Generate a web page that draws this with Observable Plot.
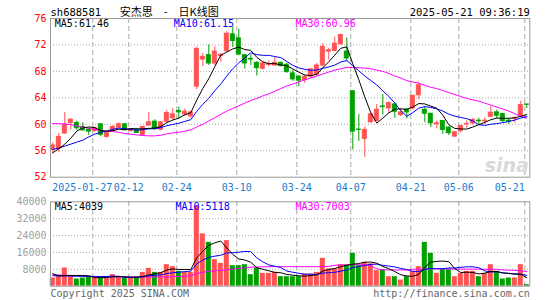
<!DOCTYPE html>
<html><head><meta charset="utf-8">
<script src="https://cdn.jsdelivr.net/npm/d3@7"></script>
<script src="https://cdn.jsdelivr.net/npm/@observablehq/plot@0.6"></script>
<style>
body{margin:0;background:#fff;}
#chart{width:545px;height:300px;overflow:hidden;background:#fff;}
#chart svg{display:block;}
</style></head><body><div id="chart"></div>
<script>
const dates = ["2025-01-16","2025-01-17","2025-01-20","2025-01-21","2025-01-22","2025-01-23","2025-01-24","2025-01-27","2025-02-05","2025-02-06",
"2025-02-07","2025-02-10","2025-02-11","2025-02-12","2025-02-13","2025-02-14","2025-02-17","2025-02-18","2025-02-19","2025-02-20",
"2025-02-21","2025-02-24","2025-02-25","2025-02-26","2025-02-27","2025-02-28","2025-03-03","2025-03-04","2025-03-05","2025-03-06",
"2025-03-07","2025-03-10","2025-03-11","2025-03-12","2025-03-13","2025-03-14","2025-03-17","2025-03-18","2025-03-19","2025-03-20",
"2025-03-21","2025-03-24","2025-03-25","2025-03-26","2025-03-27","2025-03-28","2025-03-31","2025-04-01","2025-04-02","2025-04-03",
"2025-04-07","2025-04-08","2025-04-09","2025-04-10","2025-04-11","2025-04-14","2025-04-15","2025-04-16","2025-04-17","2025-04-18",
"2025-04-21","2025-04-22","2025-04-23","2025-04-24","2025-04-25","2025-04-28","2025-04-29","2025-04-30","2025-05-06","2025-05-07",
"2025-05-08","2025-05-09","2025-05-12","2025-05-13","2025-05-14","2025-05-15","2025-05-16","2025-05-19","2025-05-20","2025-05-21"];

const open = [56.1,56.3,58.6,60.2,60.2,59.6,59.2,59.0,60.0,58.1, 59.0,59.5,60.0,59.0,59.1,58.4,59.8,60.4,59.2,60.4,
60.9,62.0,61.5,61.2,65.7,69.8,70.45,69.2,70.3,71.05, 73.6,73.0,70.45,69.9,69.3,68.4,69.0,68.9,69.3,69.0,
67.7,67.2,66.7,67.2,67.5,68.9,71.0,71.1,72.1,71.0, 65.0,59.2,57.8,60.3,60.5,62.7,62.4,63.0,61.4,62.2,
62.4,64.4,62.2,61.6,60.0,60.5,59.5,58.15,59.0,60.0, 60.15,60.55,60.45,61.15,61.8,61.55,60.55,60.85,61.3,63.0];
const high = [57.2,58.6,61.8,60.8,60.5,60.2,59.4,59.6,60.1,59.0, 59.8,60.2,60.1,59.3,59.3,59.7,61.8,60.7,60.4,62.1,
62.4,62.6,62.3,62.0,71.7,70.7,72.0,71.7,70.7,74.0, 74.7,74.4,70.55,70.5,69.45,69.45,69.6,70.1,69.4,69.2,
68.2,67.4,67.4,68.4,69.2,72.2,71.5,73.2,73.6,73.05, 65.0,61.5,59.6,61.7,63.0,64.5,63.4,63.2,62.4,62.4,
64.4,66.4,62.7,61.6,60.5,60.5,59.65,58.9,59.75,60.5, 60.9,60.9,61.0,62.65,62.15,61.65,60.9,61.15,63.5,63.0];
const low = [55.5,55.7,58.5,59.1,59.1,58.9,58.3,58.8,58.1,57.9, 58.9,59.4,59.0,58.8,58.6,58.3,59.7,59.1,59.0,60.2,
60.6,60.8,61.2,60.9,65.2,68.7,68.9,68.9,69.4,70.9, 71.6,70.35,68.35,68.9,67.3,68.2,68.7,68.8,68.7,67.7,
66.5,65.7,66.2,66.9,67.3,68.7,69.7,71.0,71.95,69.45, 56.1,57.4,55.0,60.15,60.4,61.4,61.6,60.9,61.15,60.8,
62.2,63.7,60.25,59.5,59.3,58.5,58.3,58.0,58.65,59.4, 59.9,59.9,60.0,61.0,60.8,60.15,60.0,60.15,61.15,62.4];
const close = [56.8,58.1,59.9,60.7,59.4,59.1,58.9,59.4,58.4,58.9, 59.6,60.0,59.1,59.2,58.7,59.6,60.3,59.4,60.3,61.7,
61.5,61.8,61.9,61.8,71.4,70.2,69.2,71.0,70.5,73.7, 72.6,70.55,69.2,69.8,68.5,69.2,69.1,69.3,68.8,67.9,
66.8,66.6,67.2,68.3,68.9,71.7,71.2,72.2,73.5,69.95, 58.9,59.15,59.15,61.5,62.2,62.6,63.2,61.9,61.8,61.8,
64.3,65.9,61.6,60.15,60.15,59.15,58.65,58.8,59.75,60.05, 60.65,60.45,60.55,61.75,61.3,60.5,60.45,60.9,62.9,62.95];

const ma5 = [55.7,56.3,57.0,57.9,58.98,59.44,59.6,59.5,59.04,58.94, 59.04,59.26,59.2,59.36,59.32,59.32,59.38,59.44,59.66,60.26,
60.64,60.94,61.44,61.74,63.68,65.42,66.9,68.72,70.46,70.92, 71.4,71.67,71.31,71.17,70.13,69.45,69.16,69.18,68.98,68.86,
68.38,67.88,67.46,67.36,67.56,68.54,69.46,70.46,71.5,71.71, 69.15,66.74,64.13,61.73,60.18,60.92,61.73,62.28,62.34,62.26,
62.6,63.14,63.08,62.75,62.42,61.39,59.94,59.38,59.3,59.28, 59.58,59.94,60.29,60.69,60.94,60.91,60.91,60.98,61.21,61.46];
const ma10 = [56.2,56.4,56.7,57.0,57.3,57.6,58.1,58.5,58.8,58.96, 59.24,59.43,59.35,59.2,59.13,59.18,59.32,59.32,59.51,59.79,
59.98,60.16,60.44,60.7,61.97,63.03,63.92,65.08,66.1,67.3, 68.41,69.29,70.02,70.82,70.53,70.43,70.42,70.25,70.08,69.5,
68.92,68.52,68.32,68.17,68.21,68.46,68.67,68.96,69.43,69.64, 68.85,68.1,67.3,66.62,65.95,65.04,64.24,63.21,62.04,61.22,
61.76,62.44,62.68,62.55,62.34,62.0,61.54,61.23,61.03,60.85, 60.49,59.94,59.84,60.0,60.11,60.25,60.43,60.64,60.95,61.15];
const ma30 = [60.1,60.1,60.05,59.95,59.75,59.6,59.4,59.2,59.1,58.95, 58.9,58.8,58.6,58.5,58.4,58.3,58.25,58.25,58.35,58.55,
58.7,58.8,58.95,59.15,59.6,60.0,60.5,61.0,61.5,62.0, 62.4,62.8,63.2,63.6,63.9,64.3,64.6,65.0,65.4,65.8,
66.1,66.4,66.7,67.0,67.3,67.6,67.9,68.2,68.4,68.6, 68.6,68.55,68.5,68.4,68.2,68.0,67.7,67.3,67.0,66.6,
66.4,66.2,65.9,65.6,65.4,65.1,64.8,64.5,64.2,63.9, 63.7,63.5,63.2,62.9,62.6,62.3,62.0,61.6,61.2,60.96];

const volume = [3880,4990,8640,4510,3410,3880,4200,4200,4510,3880, 5460,4510,3880,3880,3880,6560,8460,6560,6560,10210,
9260,7040,6560,6560,38000,24800,20800,12600,10800,21600, 9740,9740,10210,5460,8630,6090,6090,6560,4510,4510,
4510,4510,5790,5790,6560,13200,8170,8170,10210,10000, 15580,9740,11310,10530,7360,7840,4510,4510,2930,4510,
7040,9260,20800,15580,6090,7840,7840,4510,6090,7040, 7040,4510,6090,10210,7040,3410,3880,3880,10210,710];
const volMa5 = [5900,4900,5000,5100,5086,5086,4928,4040,4040,4134, 4450,4512,4448,4322,4322,4542,5332,5868,6404,7670,
8210,7926,7926,7926,13484,16592,19344,20552,21400,18120, 15108,12896,12418,11350,8756,8026,7296,6566,6376,5552,
5236,4920,4766,5022,5432,7170,7902,8378,9262,9950, 10426,10740,11368,11432,10904,9356,8310,6950,5430,4860,
4700,5650,8908,11438,11754,11914,11630,8372,6474,6664, 6504,5838,6154,6978,6978,6252,6126,5684,5684,4039];
const volMa10 = [5000,4900,4900,4800,4700,4700,4650,4600,4600,4610, 4768,4720,4244,4181,4228,4496,4922,5158,5363,5996,
6376,6629,6897,7165,10577,12401,13635,14239,14663,15802, 15850,16120,16485,16375,13438,11567,10096,9492,8863,7154,
6631,6108,5666,5699,5492,6203,6411,6572,7142,7691, 8798,9321,9873,10347,10427,9891,9525,9159,8431,7882,
7028,6980,7929,8434,8307,8307,8640,8640,8956,9209, 9209,8734,7263,6726,6821,6378,5982,5919,5700,5118];
const volMa30 = [5400,5300,5200,5100,5000,4900,4800,4500,4400,4400, 4400,4400,4350,4350,4350,4350,4350,4400,4400,4450,
4500,4600,4700,5000,6000,6600,7000,7300,7500,7800, 8100,8400,8700,9000,9100,9200,9250,9250,9250,9250,
9250,9250,9250,9250,9250,9300,9400,9900,10100,10100, 10200,10200,10100,9700,8200,7800,7700,7700,7700,7700,
8000,8100,8200,8200,8200,8200,8200,8100,8100,8100, 8100,8100,8000,8000,8000,7700,7600,7500,7300,7003];

const tickDates = ["2025-01-27","2025-02-12","2025-02-24","2025-03-10","2025-03-24","2025-04-07","2025-04-21","2025-05-06","2025-05-21"];
const tickLabels = ["2025-01-27","02-12","02-24","03-10","03-24","04-07","04-21","05-06","05-21"];
const priceTicks = [52,56,60,64,68,72,76];
const volTicks = [8000,16000,24000,32000,40000];

const code = "sh688581";
const title = "安杰思\u2003-\u2003日K线图";
const stamp = "2025-05-21 09:36:19";
const lastMa = {ma5: "61.46", ma10: "61.15", ma30: "60.96", v5: "4039", v10: "5118", v30: "7003"};

const RED = "#ff5252", GREEN = "#00a000", GRID = "#a8a8a8", FRAME = "#999999";
const MONO = "'DejaVu Sans Mono', monospace";

const rows = dates.map((d, i) => ({i, date: d, open: open[i], high: high[i], low: low[i], close: close[i],
  ma5: ma5[i], ma10: ma10[i], ma30: ma30[i], vol: volume[i], v5: volMa5[i], v10: volMa10[i], v30: volMa30[i]}));
const up = rows.filter(d => d.close >= d.open);
const down = rows.filter(d => d.close < d.open);
const ticks = tickDates.map((d, k) => ({i: dates.indexOf(d), label: tickLabels[k]}));
const gx = d => d.i - 1/3;

const W = 545, ML = 50, MR = 15.7;
const xOpt = {type: "linear", domain: [-0.383, 79.5], axis: null};
const baseStyle = {fontFamily: MONO, fontSize: "10px", background: "#fff", overflow: "visible"};

function candleMarks(data, color) {
  return [
    Plot.ruleX(data, {x: "i", y1: "low", y2: "high", stroke: color, strokeWidth: 1}),
    Plot.rect(data, {x1: d => d.i - 0.33, x2: d => d.i + 0.33, y1: "open", y2: "close", fill: color, stroke: color, strokeWidth: 1})
  ];
}

const labelOpts = {x: gx, text: "label", frameAnchor: "bottom", dy: 13.3, lineAnchor: "bottom", fill: "#1a7bd0"};

const price = Plot.plot({
  width: W, height: 195, marginLeft: ML, marginRight: MR, marginTop: 18, marginBottom: 18.3,
  style: baseStyle,
  x: xOpt,
  y: {domain: [52, 76], axis: null},
  marks: [
    Plot.ruleY([56, 60, 64, 68, 72], {stroke: GRID, strokeDasharray: "1,2"}),
    Plot.ruleX(ticks, {x: gx, stroke: GRID, strokeDasharray: "5,3"}),
    Plot.text(["sina"], {frameAnchor: "bottom-right", dx: -1, dy: -5, lineAnchor: "bottom", textAnchor: "end",
      fill: "#d9d9d9", fontSize: 19, fontWeight: "bold", fontStyle: "italic", fontFamily: "'DejaVu Sans', sans-serif"}),
    ...candleMarks(up, RED),
    ...candleMarks(down, GREEN),
    Plot.line(rows, {x: "i", y: "ma30", stroke: "#ff00ff", strokeWidth: 1}),
    Plot.line(rows, {x: "i", y: "ma10", stroke: "#0000ff", strokeWidth: 1}),
    Plot.line(rows, {x: "i", y: "ma5", stroke: "#000000", strokeWidth: 1}),
    Plot.frame({stroke: FRAME}),
    Plot.axisY({ticks: priceTicks, tickSize: 0, tickPadding: 4, color: "#ff0000", label: null, fontSize: 10}),
    Plot.text(ticks.slice(0, 1), {...labelOpts, dx: -10.5}),
    Plot.text(ticks.slice(1, -1), labelOpts),
    Plot.text(ticks.slice(-1), {...labelOpts, textAnchor: "end"}),
    Plot.text([code], {frameAnchor: "top-left", dx: 0, dy: -3, lineAnchor: "bottom", textAnchor: "start", fill: "#000", fontSize: 10.5}),
    Plot.text([title], {frameAnchor: "top-left", dx: 69.3, dy: -2.5, lineAnchor: "bottom", textAnchor: "start", fill: "#000",
      fontSize: 11, fontFamily: "'Noto Sans CJK SC', sans-serif"}),
    Plot.text([stamp], {frameAnchor: "top-right", dy: -3, lineAnchor: "bottom", textAnchor: "end", fill: "#000", fontSize: 10.5}),
    Plot.text(["MA5:" + lastMa.ma5], {frameAnchor: "top-left", dx: 4.3, dy: 8.7, lineAnchor: "bottom", textAnchor: "start", fill: "#000"}),
    Plot.text(["MA10:" + lastMa.ma10], {frameAnchor: "top-left", dx: 123.3, dy: 8.7, lineAnchor: "bottom", textAnchor: "start", fill: "#0000ff"}),
    Plot.text(["MA30:" + lastMa.ma30], {frameAnchor: "top-left", dx: 245, dy: 8.7, lineAnchor: "bottom", textAnchor: "start", fill: "#ff00ff"})
  ]
});

const vol = Plot.plot({
  width: W, height: 105, marginLeft: ML, marginRight: MR, marginTop: 6.3, marginBottom: 14.3,
  style: baseStyle,
  x: xOpt,
  y: {domain: [0, 40000], axis: null},
  marks: [
    Plot.ruleY([8000, 16000, 24000, 32000], {stroke: GRID, strokeDasharray: "1,2"}),
    Plot.ruleX(ticks, {x: gx, stroke: GRID, strokeDasharray: "5,3"}),
    Plot.rectY(up, {x1: d => d.i - 0.42, x2: d => d.i + 0.42, y: "vol", fill: RED}),
    Plot.rectY(down, {x1: d => d.i - 0.42, x2: d => d.i + 0.42, y: "vol", fill: GREEN}),
    Plot.line(rows, {x: "i", y: "v30", stroke: "#ff00ff", strokeWidth: 1}),
    Plot.line(rows, {x: "i", y: "v10", stroke: "#0000ff", strokeWidth: 1}),
    Plot.line(rows, {x: "i", y: "v5", stroke: "#000000", strokeWidth: 1}),
    Plot.frame({stroke: FRAME}),
    Plot.axisY({ticks: volTicks, tickFormat: d3.format("d"), tickSize: 0, tickPadding: 4, color: "#a0a0a0", label: null, fontSize: 10}),
    Plot.text(["MA5:" + lastMa.v5], {frameAnchor: "top-left", dx: 4.3, dy: 8, lineAnchor: "bottom", textAnchor: "start", fill: "#000"}),
    Plot.text(["MA10:" + lastMa.v10], {frameAnchor: "top-left", dx: 125, dy: 8, lineAnchor: "bottom", textAnchor: "start", fill: "#0000ff"}),
    Plot.text(["MA30:" + lastMa.v30], {frameAnchor: "top-left", dx: 245, dy: 8, lineAnchor: "bottom", textAnchor: "start", fill: "#ff00ff"}),
    Plot.text(["Copyright 2025 SINA.COM"], {frameAnchor: "bottom-left", dy: 10.5, lineAnchor: "bottom", textAnchor: "start", fill: "#666"}),
    Plot.text(["http://finance.sina.com.cn"], {frameAnchor: "bottom-right", dy: 10.5, lineAnchor: "bottom", textAnchor: "end", fill: "#666"})
  ]
});

const el = document.getElementById("chart");
el.appendChild(price);
el.appendChild(vol);
</script>
</body></html>
